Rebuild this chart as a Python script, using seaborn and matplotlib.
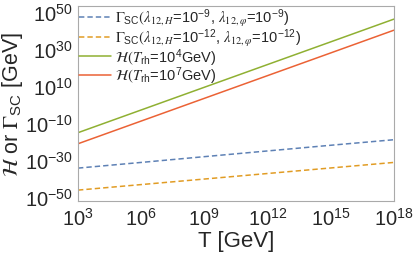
import numpy as np
import pandas as pd
import seaborn as sns
import matplotlib.pyplot as plt
from matplotlib.ticker import FixedLocator, NullFormatter

# ---- data (values at the x tick positions) ----
T_GEV = [1e3, 1e6, 1e9, 1e12, 1e15, 1e18]
GAMMA_L9 = [2.5e-35, 3e-32, 4e-29, 5e-26, 6e-23, 6e-20]
GAMMA_L12 = [3e-47, 3e-44, 3e-41, 3e-38, 3e-35, 3e-32]
H_TRH4 = [4e-16, 8e-4, 1.6e9, 3.2e21, 6.3e33, 1.3e46]
H_TRH7 = [4e-22, 8e-10, 1.6e3, 3.2e15, 6.3e27, 1.3e40]

LABELS = [
    r'$\Gamma_{\mathdefault{SC}}(\lambda_{12,H}$=10$^{\mathdefault{-9}}$, $\lambda_{12,\varphi}$=10$^{\mathdefault{-9}}$)',
    r'$\Gamma_{\mathdefault{SC}}(\lambda_{12,H}$=10$^{\mathdefault{-12}}$, $\lambda_{12,\varphi}$=10$^{\mathdefault{-12}}$)',
    r'$\mathcal{H}(T_{\mathdefault{rh}}$=10$^{\mathdefault{4}}$GeV)',
    r'$\mathcal{H}(T_{\mathdefault{rh}}$=10$^{\mathdefault{7}}$GeV)',
]
COLORS = ['#5E81B5', '#E19C24', '#8FB032', '#EB6235']

series = [GAMMA_L9, GAMMA_L12, H_TRH4, H_TRH7]
df = pd.concat(
    [pd.DataFrame({'T': T_GEV, 'rate': vals, 'serie': lab}) for lab, vals in zip(LABELS, series)],
    ignore_index=True,
)

sns.set_theme(style='white')
plt.rcParams['font.family'] = ['Liberation Sans', 'DejaVu Sans']
plt.rcParams['mathtext.fontset'] = 'stix'

fig, ax = plt.subplots(figsize=(4.15, 2.55), dpi=100)
fig.subplots_adjust(left=0.188, right=0.949, bottom=0.208, top=0.973)

sns.lineplot(
    data=df, x='T', y='rate', hue='serie', style='serie',
    hue_order=LABELS, style_order=LABELS,
    palette=dict(zip(LABELS, COLORS)),
    dashes={LABELS[0]: (3.5, 2), LABELS[1]: (3.5, 2), LABELS[2]: '', LABELS[3]: ''},
    linewidth=1.1, ax=ax,
)

ax.set_xscale('log')
ax.set_yscale('log')
ax.set_xlim(1e3, 1e18)
ax.set_ylim(10 ** -52.4, 10 ** 53.3)

ax.xaxis.set_major_locator(FixedLocator([1e3, 1e6, 1e9, 1e12, 1e15, 1e18]))
ax.xaxis.set_minor_locator(FixedLocator([]))
ax.yaxis.set_major_locator(FixedLocator([10.0 ** e for e in range(-50, 51, 20)]))
ax.yaxis.set_minor_locator(FixedLocator([10.0 ** e for e in range(-40, 41, 20)]))
ax.yaxis.set_minor_formatter(NullFormatter())

ax.tick_params(which='both', direction='in', color='#999999', labelsize=14.5, pad=4)
ax.tick_params(which='major', length=3, width=0.6)
ax.tick_params(which='minor', length=2, width=0.5)
for s in ax.spines.values():
    s.set_color('#aaaaaa')
    s.set_linewidth(0.8)

ax.set_xlabel('T [GeV]', fontsize=16, labelpad=1)
ax.set_ylabel(r'$\mathcal{H}$ or $\Gamma_{\mathdefault{SC}}$ [GeV]', fontsize=15.5, labelpad=0)

handles, labels = ax.get_legend_handles_labels()
ax.legend(handles, labels, loc='upper left', frameon=False, fontsize=10.5,
          handlelength=2.2, handletextpad=0.3, labelspacing=-0.2,
          borderaxespad=0.05, borderpad=0.0)

plt.savefig('out.png', dpi=100)
